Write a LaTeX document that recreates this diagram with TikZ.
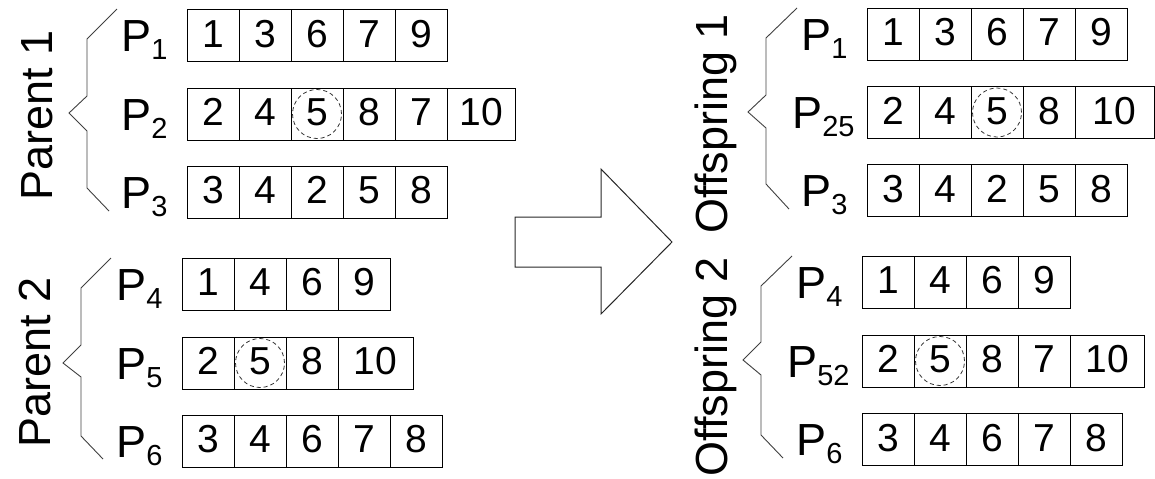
\documentclass[tikz,border=0pt]{standalone}
\usepackage{fontspec}
\setmainfont{Liberation Sans}
\usetikzlibrary{positioning}

\newcommand\sub[1]{\raisebox{-4pt}{\fontsize{14.5pt}{17pt}\selectfont #1}}
\newcommand\chrom[4]{%
 \node[inner sep=0, outer sep=0] (#1-0) at #2 {};
 \foreach \g/\w [count=\i, remember=\i as \j (initially 0)] in {#4}
  \node[gene, minimum width=\w pt, right=0pt of #1-\j] (#1-\i) {\g};
 \node[plab, left=6pt of #1-1] (#1-lab) {#3};
}

\begin{document}
\begin{tikzpicture}[x=0.5pt, y=-0.5pt, line width=0.5pt,
 gene/.style={draw, outer sep=0, inner sep=0, minimum height=26pt,
  text height=14pt, text depth=2.5pt, font=\fontsize{19.5pt}{23pt}\selectfont},
 plab/.style={inner sep=0, minimum width=30pt, yshift=-2.5pt,
  font=\fontsize{22.5pt}{27pt}\selectfont},
 biglab/.style={rotate=90, anchor=base, inner sep=0,
  font=\fontsize{22.5pt}{27pt}\selectfont},
 brace/.style={draw=black!75, line width=0.45pt},
 pick/.style={draw=black!80, line width=0.4pt, dash pattern=on 2pt off 1.5pt},
 blockarrow/.style={draw=black!85, line width=0.5pt}]
 \useasboundingbox (0,0) rectangle (1155,478);

 \chrom{A1}{(186,35.5)}{P\sub{1}}{1/26,3/26,6/26,7/26,9/26}
 \chrom{A2}{(186,114)}{P\sub{2}}{2/26,4/26,5/26,8/26,7/26,10/34}
 \chrom{A3}{(186,192)}{P\sub{3}}{3/26,4/26,2/26,5/26,8/26}
 \chrom{B1}{(181,284)}{P\sub{4}}{1/26,4/26,6/26,9/26}
 \chrom{B2}{(181,363)}{P\sub{5}}{2/26,5/26,8/26,10/37.5}
 \chrom{B3}{(181,441)}{P\sub{6}}{3/26,4/26,6/26,7/26,8/26}
 \chrom{C1}{(866,34)}{P\sub{1}}{1/26,3/26,6/26,7/26,9/26}
 \chrom{C2}{(866,112.5)}{P\sub{25}}{2/26,4/26,5/26,8/26,10/39.5}
 \chrom{C3}{(866,190.5)}{P\sub{3}}{3/26,4/26,2/26,5/26,8/26}
 \chrom{D1}{(861,282)}{P\sub{4}}{1/26,4/26,6/26,9/26}
 \chrom{D2}{(861,361)}{P\sub{52}}{2/26,5/26,8/26,7/26,10/37}
 \chrom{D3}{(861,439.5)}{P\sub{6}}{3/26,4/26,6/26,7/26,8/26}

 \draw[pick] (A2-3) circle [radius=12.25pt];
 \draw[pick] (B2-2) circle [radius=12.25pt];
 \draw[pick] (C2-3) circle [radius=12.25pt];
 \draw[pick] (D2-2) circle [radius=12.25pt];

 \draw[brace] (117,9) -- (87,39) -- (87,96) -- (69,113) -- (87,131) -- (87,188) -- (109,211);
 \draw[brace] (111,258) -- (81,288) -- (81,345) -- (63,363) -- (81,377) -- (81,436) -- (103,459);
 \draw[brace] (797,8) -- (766,38) -- (766,95) -- (748,112) -- (766,128) -- (766,184) -- (789,209);
 \draw[brace] (792,256) -- (761,286) -- (761,342) -- (743,360) -- (761,375) -- (761,435) -- (783,458);

 \node[biglab] (par1) at (52,115.5) {Parent 1};
 \node[biglab] (par2) at (50.5,362) {Parent 2};
 \node[biglab] (off1) at (727,124) {Offspring 1};
 \node[biglab] (off2) at (727,367) {Offspring 2};

 \draw[blockarrow] (515,217) -- (601,217) -- (601,169) -- (672,242) -- (601,314) -- (601,267) -- (515,267) -- cycle;
\end{tikzpicture}
\end{document}
